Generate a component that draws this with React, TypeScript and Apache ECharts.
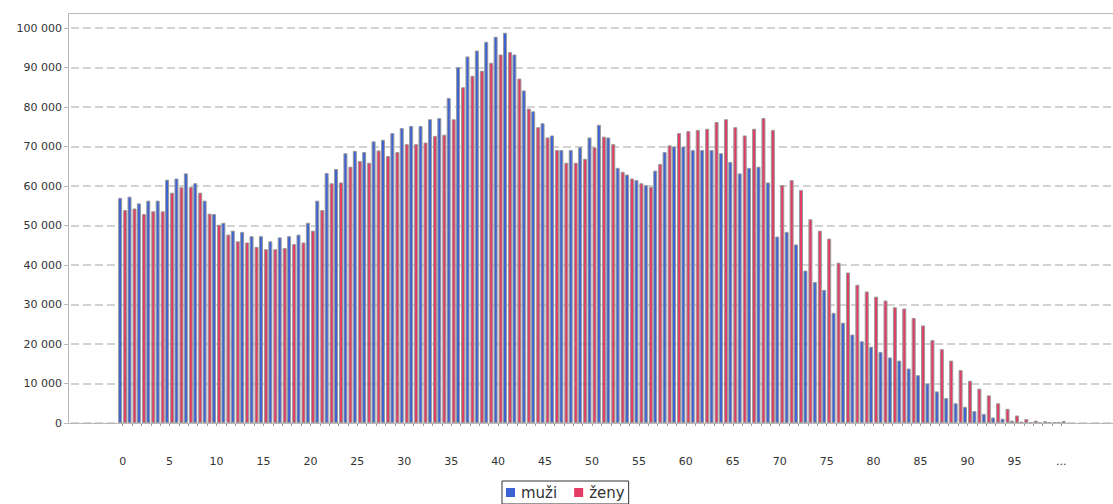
import React, { useEffect, useRef } from "react";
import * as echarts from "echarts";

const ages: string[] = Array.from({ length: 100 }, (_, i) => String(i)).concat(["..."]);

const muzi: number[] = [
  57000, 57300, 55600, 56300, 56300, 61600, 61900, 63200, 60700, 56300,
  52900, 50700, 48700, 48400, 47300, 47300, 46000, 47000, 47300, 47700,
  50700, 56300, 63300, 64300, 68300, 68900, 68600, 71300, 71700, 73400,
  74700, 75200, 75200, 76900, 77200, 82300, 90100, 92800, 94300, 96500,
  97800, 98800, 93300, 84200, 78900, 75900, 72800, 69100, 69100, 69800,
  72300, 75500, 72300, 64600, 62900, 61500, 60200, 63900, 68600, 70000,
  70000, 69100, 69100, 69100, 68300, 66100, 63200, 64600, 64900, 60900,
  47200, 48400, 45200, 38600, 35700, 33700, 27900, 25400, 22400, 20700,
  19300, 18000, 16600, 15800, 13800, 12100, 10000, 8000, 6300, 5000,
  4100, 3000, 2300, 1400, 1100, 600, 350, 150, 100, 50,
  100,
];

const zeny: number[] = [
  53900, 54300, 52900, 53600, 53600, 58300, 59700, 59800, 58300, 53000,
  50200, 47700, 46000, 45700, 44600, 44000, 44000, 44300, 45300, 45700,
  48700, 53900, 60700, 60900, 64900, 66300, 65900, 69000, 67600, 68600,
  70600, 70600, 71000, 72700, 73000, 76900, 85000, 87900, 89200, 91200,
  93300, 93900, 87200, 79600, 74900, 72300, 69100, 65900, 65900, 66900,
  69800, 72500, 70600, 63600, 61900, 60700, 59800, 65600, 70300, 73400,
  73900, 74200, 74500, 76200, 76900, 74900, 72800, 74500, 77200, 74200,
  60200, 61500, 59000, 51600, 48700, 46700, 40600, 38100, 35000, 33300,
  32000, 31000, 29300, 29000, 26600, 24700, 21000, 18700, 15800, 13400,
  10700, 8700, 7000, 5000, 3600, 1900, 1000, 600, 450, 150,
  500,
];

const yTicks: number[] = [0, 10000, 20000, 30000, 40000, 50000, 60000, 70000, 80000, 90000, 100000];

const PAD_LEFT = 5;
const PAD_RIGHT = 5;

const FONT = "DejaVu Sans";

function fmt(v: number): string {
  return String(v).replace(/\B(?=(\d{3})+(?!\d))/g, " ");
}

export default function App() {
  const ref = useRef<HTMLDivElement>(null);

  useEffect(() => {
    document.body.style.margin = "0";
    if (!ref.current) return;
    const chart = echarts.init(ref.current, undefined, { renderer: "svg" });

    const blanksL = Array.from({ length: PAD_LEFT }, () => "");
    const blanksR = Array.from({ length: PAD_RIGHT }, () => "");
    const cats = [...blanksL, ...ages, ...blanksR];
    const padL = Array.from({ length: PAD_LEFT }, () => null);
    const padR = Array.from({ length: PAD_RIGHT }, () => null);

    const isAge = (i: number) => i >= PAD_LEFT && i < PAD_LEFT + ages.length;
    const catW = 9.43;

    chart.setOption({
      animation: false,
      textStyle: { fontFamily: FONT },
      grid: {
        left: 71,
        top: 28,
        width: catW * cats.length,
        height: 395,
        containLabel: false,
      },
      graphic: [
        {
          type: "rect",
          z: 10,
          silent: true,
          shape: { x: 68.5, y: 13.5, width: 1100, height: 410 },
          style: { fill: "none", stroke: "#b8b8b8", lineWidth: 1 },
        },
      ],
      legend: {
        left: 502,
        top: 481,
        padding: [4, 4, 4, 4],
        borderColor: "#333",
        borderWidth: 1,
        itemWidth: 9,
        itemHeight: 9,
        itemGap: 17,
        icon: "rect",
        itemStyle: { borderWidth: 0 },
        textStyle: { fontFamily: FONT, fontSize: 15, color: "#333", padding: [0, 0, 0, 1] },
        data: ["muži", "ženy"],
      },
      xAxis: {
        type: "category",
        data: cats,
        axisLine: { show: false },
        axisTick: {
          show: true,
          alignWithLabel: true,
          length: 3,
          interval: (i: number) => isAge(i),
          lineStyle: { color: "#999" },
        },
        axisLabel: {
          interval: (i: number) => isAge(i) && ((i - PAD_LEFT) % 5 === 0),
          margin: 33,
          fontSize: 11,
          fontFamily: FONT,
          color: "#333",
        },
        splitLine: { show: false },
      },
      yAxis: {
        type: "value",
        min: yTicks[0],
        max: yTicks[yTicks.length - 1],
        interval: yTicks[1] - yTicks[0],
        offset: 3,
        axisLine: { show: false },
        axisTick: { show: true, length: 4, lineStyle: { color: "#bbb" } },
        axisLabel: {
          margin: 6,
          fontSize: 11,
          fontFamily: FONT,
          color: "#333",
          formatter: (v: number) => fmt(v),
        },
        splitLine: {
          show: true,
          lineStyle: { color: "#c4c4c4", type: [8, 4], width: 1.5 },
        },
      },
      series: [
        {
          name: "muži",
          type: "bar",
          data: [...padL, ...muzi, ...padR],
          barWidth: 4,
          barGap: "25%",
          itemStyle: { color: "#3d62d6", borderColor: "#9a9a9a", borderWidth: 1 },
        },
        {
          name: "ženy",
          type: "bar",
          data: [...padL, ...zeny, ...padR],
          barWidth: 4,
          barGap: "25%",
          itemStyle: { color: "#e23c64", borderColor: "#9a9a9a", borderWidth: 1 },
        },
      ],
    });

    return () => {
      chart.dispose();
    };
  }, []);

  return (
    <div
      ref={ref}
      style={{ position: "absolute", left: 0, top: 0, width: 1113, height: 504 }}
    />
  );
}
